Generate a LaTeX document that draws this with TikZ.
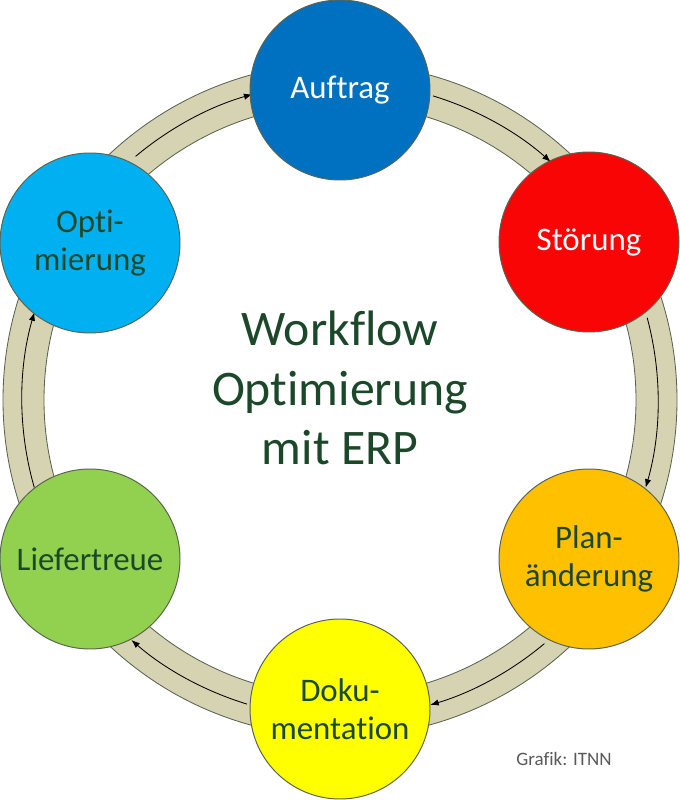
\documentclass[tikz,border=0pt]{standalone}
\usepackage{fontspec}
\setmainfont{Carlito}[Ligatures={NoCommon}]
\usetikzlibrary{arrows.meta}
\definecolor{ringfill}{RGB}{214,211,178}
\definecolor{ringline}{RGB}{90,100,80}
\definecolor{darkgreen}{RGB}{28,72,42}
\definecolor{cblue}{RGB}{0,112,192}
\definecolor{cred}{RGB}{250,5,5}
\definecolor{corange}{RGB}{255,192,0}
\definecolor{cyellow}{RGB}{255,255,0}
\definecolor{cgreen}{RGB}{146,208,80}
\definecolor{clight}{RGB}{0,176,240}

\begin{document}
\begin{tikzpicture}[
  phase/.style={circle,draw=ringline,line width=0.7pt,minimum size=4.5cm,inner sep=0pt,
    align=center,text=darkgreen,font=\fontsize{23.4}{26.9}\selectfont},
  flow/.style={->,>={Latex[length=6pt,width=4.5pt]},line width=0.6pt}]
  \useasboundingbox (0,0) rectangle (17,20);
  \coordinate (mid) at (8.5,10);
  % ring
  \draw[ringline,fill=ringfill,even odd rule,line width=0.6pt]
    (mid) circle (8.425) (mid) circle (7.4);
  \foreach \a/\b in {73/48.5, 15/-16, -50/-73.5, -107/-131, 196/164, 130/106}
    \draw[flow] ([shift={(\a:7.95)}]mid) arc[start angle=\a, end angle=\b, radius=7.95];
  % phases
  \node[phase,fill=cblue,text=white] (auftrag) at (8.5,17.75) {Auftrag};
  \node[phase,fill=cred,text=white] (stoerung) at (14.725,13.95) {Störung};
  \node[phase,fill=corange] (plan) at (14.725,6.025) {Plan-\\änderung};
  \node[phase,fill=cyellow] (doku) at (8.5,2.275) {Doku-\\mentation};
  \node[phase,fill=cgreen] (liefer) at (2.25,6.025) {Liefertreue};
  \node[phase,fill=clight] (opti) at (2.25,13.925) {Opti-\\mierung};
  % title
  \node[align=center,text=darkgreen,font=\fontsize{35.4}{42.5}\selectfont] (title) at (8.5,10.3)
    {Workflow\\Optimierung\\mit ERP};
  \node[anchor=base,text=black!65,font=\fontsize{13.5}{16}\selectfont] (credit) at (14.1,0.875)
    {Grafik: ITNN};
\end{tikzpicture}
\end{document}
